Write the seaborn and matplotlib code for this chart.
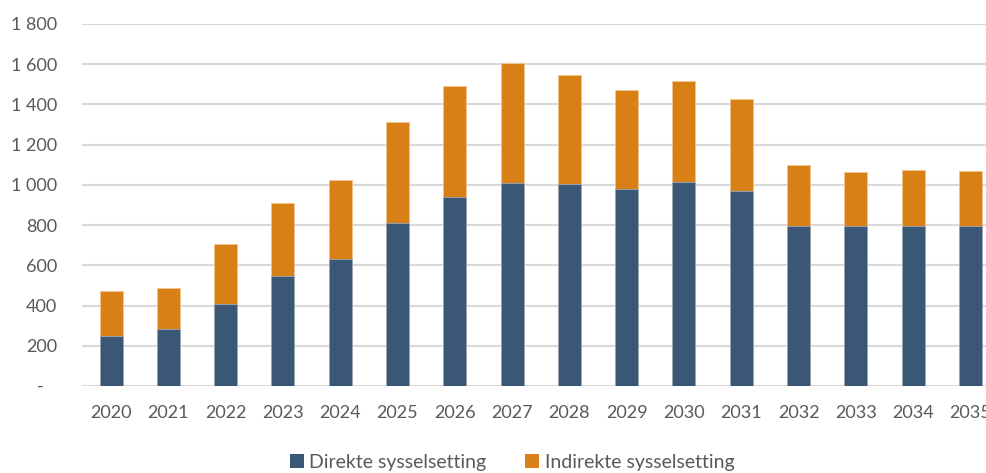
import matplotlib
matplotlib.use("Agg")
import matplotlib.pyplot as plt
import seaborn as sns
import pandas as pd
import numpy as np
from matplotlib.patches import Patch
from matplotlib.ticker import FuncFormatter

years = [str(y) for y in range(2020, 2036)]
direkte = [249, 283, 406, 545, 630, 812, 941, 1011, 1003, 978, 1013, 970, 795, 795, 795, 795]
indirekte = [223, 204, 298, 365, 394, 499, 552, 593, 542, 494, 503, 459, 304, 269, 278, 274]
series_names = ["Direkte sysselsetting", "Indirekte sysselsetting"]
colors = ["#3A5775", "#D87F16"]

df = pd.DataFrame({"år": years, "direkte": direkte, "indirekte": indirekte})
df["total"] = df["direkte"] + df["indirekte"]

sns.set_theme(style="white")
plt.rcParams["font.family"] = ["Lato", "DejaVu Sans"]
text_color = "#595959"

fig = plt.figure(figsize=(9.87, 4.73), dpi=100)
ax = fig.add_axes([0.0835, 0.184, 0.9287, 0.7653])

# Stacked bars: full height in orange, direct share drawn over it in navy
sns.barplot(data=df, x="år", y="total", color=colors[1], width=0.4,
            saturation=1, ax=ax, edgecolor="#F2C38F", linewidth=0.6, zorder=3)
sns.barplot(data=df, x="år", y="direkte", color=colors[0], width=0.4,
            saturation=1, ax=ax, edgecolor="#9AAABB", linewidth=0.6, zorder=4)

ax.set_xlim(-0.5, len(years) - 0.5)
ax.set_ylim(0, 1800)
ax.set_yticks(np.arange(0, 1801, 200))


def fmt(v, pos):
    if v == 0:
        return "-   "
    return f"{int(v):,}".replace(",", " ")


ax.yaxis.set_major_formatter(FuncFormatter(fmt))
ax.grid(axis="y", color="#D9D9D9", linewidth=1.5, zorder=0)
ax.set_axisbelow(True)
for s in ax.spines.values():
    s.set_visible(False)
ax.tick_params(axis="both", length=0, labelsize=13, labelcolor=text_color)
ax.tick_params(axis="y", pad=18)
ax.tick_params(axis="x", pad=14)
ax.set_xlabel("")
ax.set_ylabel("")

handles = [Patch(facecolor=c, edgecolor="none") for c in colors]
fig.legend(handles, series_names, loc="center", bbox_to_anchor=(0.519, 0.022),
           ncol=2, frameon=False, fontsize=14, labelcolor=text_color,
           handlelength=0.7, handleheight=0.7, handletextpad=0.3,
           columnspacing=2.0)

fig.savefig("out.png", dpi=100)
